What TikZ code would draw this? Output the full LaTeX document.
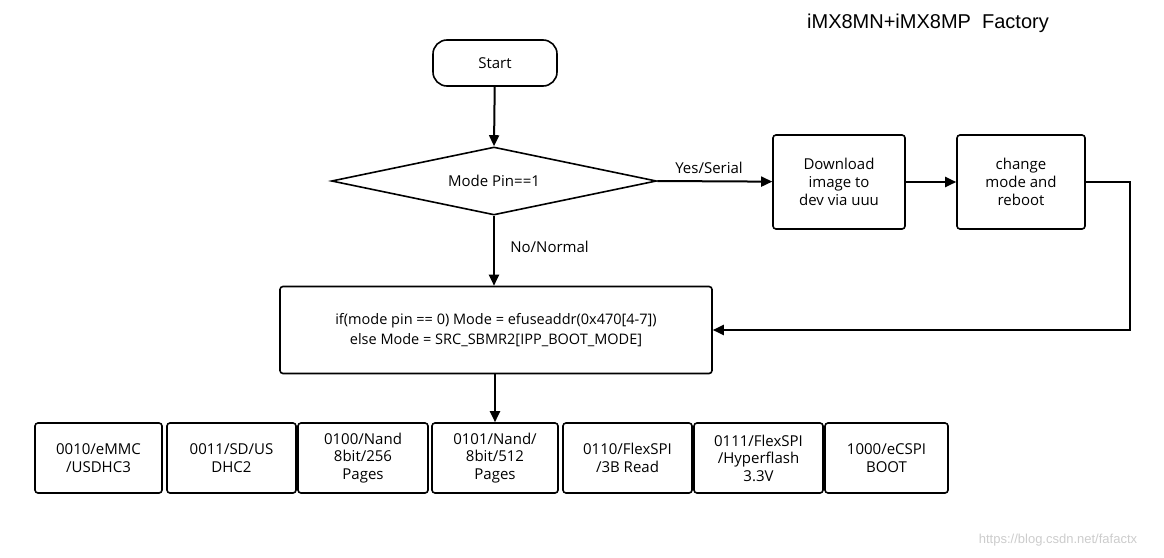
\documentclass[tikz,border=0pt]{standalone}
\usepackage{fontspec}
\setmainfont{Open Sans}
\newfontfamily\arialf{Liberation Sans}
\usetikzlibrary{shapes.geometric,arrows.meta}
\begin{document}
\begin{tikzpicture}[x=1pt,y=-1pt,
  bx/.style={draw,line width=1.6pt,rounded corners=3pt,align=center,font=\fontsize{15}{18}\selectfont,inner sep=0pt},
  ar/.style={line width=2pt,-{Triangle[length=11pt,width=10pt]}},
  lb/.style={font=\fontsize{15}{18}\selectfont}]
\useasboundingbox (0,0) rectangle (1164,557);
\node[font=\arialf\fontsize{20}{24}\selectfont] (title) at (928,23) {iMX8MN+iMX8MP\ \ Factory};
\node[bx,rounded corners=14pt,minimum width=124pt,minimum height=46pt] (start) at (495,63) {Start};
\node[draw,line width=1.6pt,diamond,aspect=4.78,minimum width=325pt,minimum height=68pt,inner sep=0pt,font=\fontsize{15}{18}\selectfont] (dia) at (494,181) {Mode Pin==1};
\node[bx,minimum width=132pt,minimum height=94pt] (dl) at (839,182) {Download\\image to\\dev via uuu};
\node[bx,minimum width=128pt,minimum height=94pt] (ch) at (1021,182) {change\\mode and\\reboot};
\node[bx,minimum width=432pt,minimum height=87pt,font=\fontsize{14.5}{20}\selectfont] (sel) at (496,330) {if(mode pin == 0) Mode = efuseaddr(0x470[4-7])\\else Mode = SRC\_SBMR2[IPP\_BOOT\_MODE]};
\foreach \n/\l/\r/\t in {b1/35/162/{0010/eMMC\\/USDHC3},b2/167/296/{0011/SD/US\\DHC2},b3/298/428/{0100/Nand\\8bit/256\\Pages},b4/432/558/{0101/Nand/\\8bit/512\\Pages},b5/563/692/{0110/FlexSPI\\/3B Read},b6/694/823/{0111/FlexSPI\\/Hyperflash\\3.3V},b7/825/948/{1000/eCSPI\\BOOT}}
  \node[bx,minimum width={\r-\l},minimum height=70pt,font=\fontsize{15}{17.5}\selectfont] (\n) at ({(\l+\r)/2},458) {\t};
\draw[ar] (start) -- (dia.north);
\draw[ar] (dia.east) -- node[lb,above,pos=0.45,yshift=3pt]{Yes/Serial} (dl);
\draw[ar] (dl) -- (ch);
\draw[ar] (ch.east) -- (1130,182) |- (sel.east);
\draw[ar] (dia.south) -- node[lb,right,xshift=12pt,pos=0.45]{No/Normal} (sel.north-|dia.south);
\draw[ar] (sel.south-|b4.north) -- (b4.north);
\node[text=gray!40,font=\arialf\fontsize{13}{15}\selectfont] (wm) at (1058,540) {https://blog.csdn.net/fafactx};
\end{tikzpicture}
\end{document}
